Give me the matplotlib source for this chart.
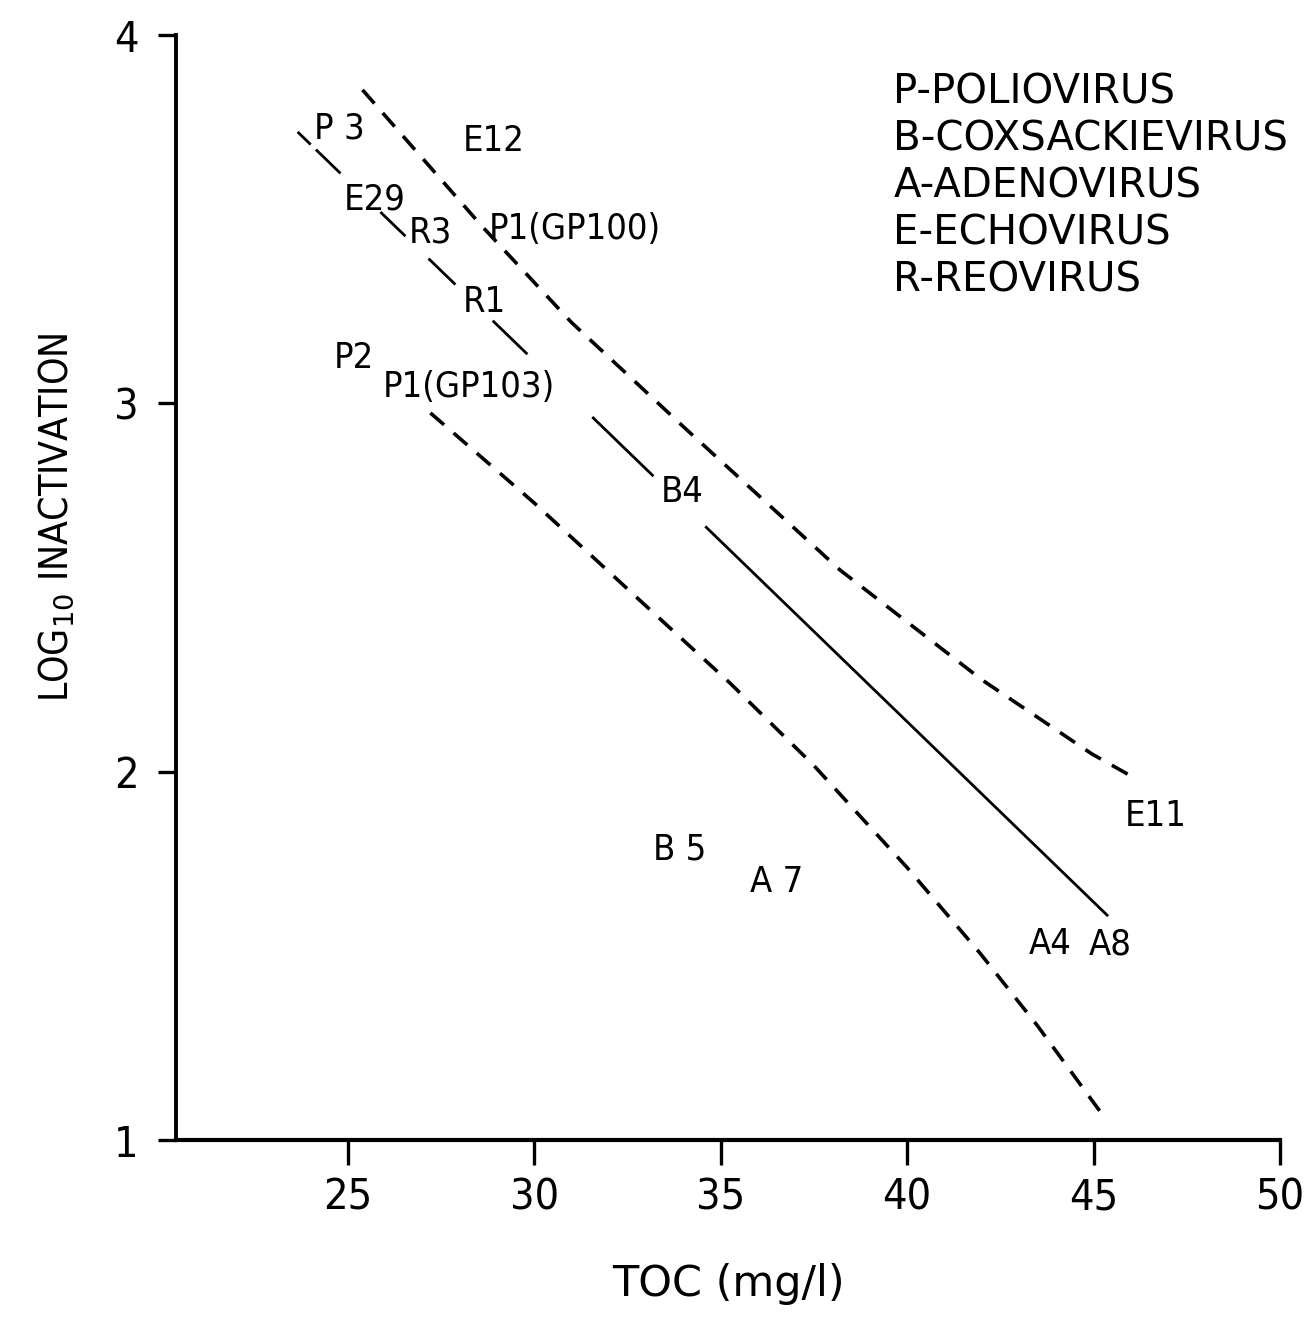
import numpy as np
import matplotlib
matplotlib.use("Agg")
import matplotlib.pyplot as plt

# подписи вирусов (точки) : текст, TOC, log10 инактивации
virus_labels = ["P 3", "E12", "E29", "R3", "P1(GP100)", "R1", "P2", "P1(GP103)",
                "B4", "E11", "B 5", "A 7", "A4", "A8"]
virus_toc = [24.09, 28.08, 24.89, 26.63, 28.78, 28.08, 24.62, 25.94,
             33.39, 45.85, 33.20, 35.80, 43.25, 44.86]
virus_log = [3.72, 3.685, 3.525, 3.438, 3.446, 3.248, 3.096, 3.017,
             2.732, 1.852, 1.763, 1.673, 1.505, 1.505]

# линия регрессии (концы) и видимые куски между подписями
fit_x = [23.66, 45.39]
fit_y = [3.737, 1.608]
fit_dashed_parts = [(23.66, 24.01), (24.15, 24.81), (25.88, 26.55),
                    (27.17, 27.89), (28.89, 29.82)]
fit_solid_parts = [(31.56, 33.20), (34.59, 45.39)]

# верхняя и нижняя границы (пунктир)
upper_x = [25.40, 28.62, 31.0, 34.01, 38.21, 42.0, 44.96, 46.01]
upper_y = [3.851, 3.479, 3.22, 2.936, 2.547, 2.25, 2.048, 1.988]
lower_x = [27.22, 30.0, 33.0, 35.26, 37.49, 40.0, 41.96, 43.5, 45.31]
lower_y = [2.974, 2.73, 2.45, 2.240, 2.018, 1.74, 1.507, 1.31, 1.059]

legend_lines = ["P-POLIOVIRUS", "B-COXSACKIEVIRUS", "A-ADENOVIRUS",
                "E-ECHOVIRUS", "R-REOVIRUS"]

x_ticks = [25, 30, 35, 40, 45, 50]
y_ticks = [1, 2, 3, 4]

plt.rcParams['font.family'] = ['DejaVu Sans']

fig = plt.figure(figsize=(13.04, 13.32), dpi=100)
ax = fig.add_axes([0.135, 0.1441, 0.8466, 0.8296])
ax.set_xlim(20.4, 50)
ax.set_ylim(1, 4)

# пунктирные кривые
dash = (0, (5, 3.5))
ax.plot(upper_x, upper_y, color='black', lw=2.6, linestyle=dash)
ax.plot(lower_x, lower_y, color='black', lw=2.6, linestyle=dash)

# линия регрессии, прерванная подписями
for x0, x1 in fit_dashed_parts + fit_solid_parts:
    xs = np.array([x0, x1])
    ys = np.interp(xs, fit_x, fit_y)
    ax.plot(xs, ys, color='black', lw=2.0, solid_capstyle='butt')

for lab, x, y in zip(virus_labels, virus_toc, virus_log):
    ax.text(x, y, lab, fontsize=26, fontstretch='condensed', ha='left', va='baseline')

# легенда-текст справа вверху
leg_x, leg_y, leg_step = 39.63, 3.815, 0.1276
for i, line in enumerate(legend_lines):
    ax.text(leg_x, leg_y - i * leg_step, line, fontsize=29, ha='left', va='baseline')

for side in ['top', 'right']:
    ax.spines[side].set_visible(False)
ax.spines['left'].set_linewidth(2.8)
ax.spines['bottom'].set_linewidth(3)

ax.set_xticks(x_ticks)
ax.set_yticks(y_ticks)
ax.tick_params(axis='x', direction='out', length=18, width=2.4, pad=8, labelsize=31)
ax.tick_params(axis='y', direction='out', length=13, width=2.4, pad=14, labelsize=31)
for t in ax.get_xticklabels() + ax.get_yticklabels():
    t.set_fontstretch('condensed')

ax.set_xlabel("TOC (mg/l)", fontsize=31, labelpad=32)
ax.set_ylabel("LOG$_{10}$ INACTIVATION", fontsize=28, fontstretch='condensed')
ax.yaxis.set_label_coords(-0.091, 0.564)

fig.savefig("out.png", dpi=100)
